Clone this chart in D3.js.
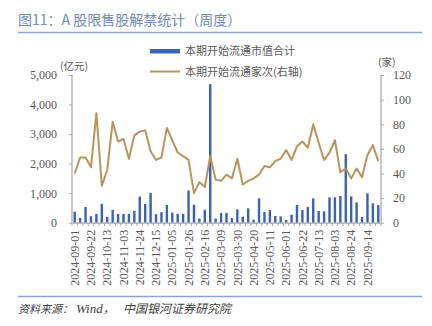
<!DOCTYPE html>
<html><head><meta charset="utf-8">
<script src="https://cdn.jsdelivr.net/npm/d3@7"></script>
<style>
html,body{margin:0;padding:0;background:#fff;}
svg{display:block;}
</style></head>
<body>
<svg id="c" width="432" height="326"></svg>
<script>
const weeks = ["2024-09-01","2024-09-08","2024-09-15","2024-09-22","2024-09-29","2024-10-06","2024-10-13","2024-10-20","2024-10-27","2024-11-03","2024-11-10","2024-11-17","2024-11-24","2024-12-01","2024-12-08","2024-12-15","2024-12-22","2024-12-29","2025-01-05","2025-01-12","2025-01-19","2025-01-26","2025-02-02","2025-02-09","2025-02-16","2025-02-23","2025-03-02","2025-03-09","2025-03-16","2025-03-23","2025-03-30","2025-04-06","2025-04-13","2025-04-20","2025-04-27","2025-05-04","2025-05-11","2025-05-18","2025-05-25","2025-06-01","2025-06-08","2025-06-15","2025-06-22","2025-06-29","2025-07-06","2025-07-13","2025-07-20","2025-07-27","2025-08-03","2025-08-10","2025-08-17","2025-08-24","2025-08-31","2025-09-07","2025-09-14","2025-09-21","2025-09-28"];
const marketValue = [370,165,530,220,300,640,200,437,300,300,300,402,885,632,1010,287,356,598,345,300,300,1090,609,140,437,4690,140,322,330,158,451,203,485,102,824,361,429,226,214,90,271,598,429,530,824,395,384,858,858,903,2320,892,688,192,993,655,598];
const companyCount = [40,53,53,45,89,30,43,82,66,68,52,71,74,75,58,51,53,77,67,57,54,51,24,33,29,54,35,34,39,36,52,31,34,36,39,46,45,50,52,59,51,62,66,61,80,65,51,57,67,41,44,36,44,37,55,63,50];
const xTickLabels = ["2024-09-01","2024-09-22","2024-10-13","2024-11-03","2024-11-24","2024-12-15","2025-01-05","2025-01-26","2025-02-16","2025-03-09","2025-03-30","2025-04-20","2025-05-11","2025-06-01","2025-06-22","2025-07-13","2025-08-03","2025-08-24","2025-09-14"];
const leftTicks = [0,1000,2000,3000,4000,5000];
const rightTicks = [0,20,40,60,80,100,120];
const seriesNames = ["本期开始流通市值合计","本期开始流通家次(右轴)"];

const svg = d3.select("#c");
const barColor = "#3a62b6", lineColor = "#b8935b", axisColor = "#a6a6a6", textColor = "#595959";
const serif = "'Liberation Serif','Times New Roman',serif";
const cjk = "'Noto Sans CJK SC','Noto Sans',sans-serif";

// title
svg.append("text").attr("x",18).attr("y",25).attr("font-family",cjk).attr("font-size",14)
  .attr("fill","#7089c0").text("图11：A 股限售股解禁统计（周度）");
svg.append("line").attr("x1",18).attr("x2",422).attr("y1",32.5).attr("y2",32.5)
  .attr("stroke","#8ea3d2").attr("stroke-width",1.6);

const x = d3.scaleBand().domain(weeks).range([72,381]).padding(0);
const yL = d3.scaleLinear().domain([0,5000]).range([222.7,75]);
const yR = d3.scaleLinear().domain([0,120]).range([222.7,75]);

// bars
const bw = 2.4;
svg.append("g").selectAll("rect").data(weeks).join("rect")
  .attr("x",(d)=>x(d)+x.bandwidth()/2-bw/2)
  .attr("y",(d,i)=>yL(marketValue[i]))
  .attr("width",bw)
  .attr("height",(d,i)=>yL(0)-yL(marketValue[i]))
  .attr("fill",barColor);

// line
const line = d3.line().x((d,i)=>x(weeks[i])+x.bandwidth()/2).y(d=>yR(d));
svg.append("path").datum(companyCount).attr("d",line).attr("fill","none")
  .attr("stroke",lineColor).attr("stroke-width",2).attr("stroke-linejoin","round");

// left axis
const gL = svg.append("g").attr("transform","translate(72,0)")
  .call(d3.axisLeft(yL).tickValues(leftTicks).tickSize(3).tickPadding(12).tickFormat(d3.format(",")));
// right axis
const gR = svg.append("g").attr("transform","translate(381,0)")
  .call(d3.axisRight(yR).tickValues(rightTicks).tickSize(3).tickPadding(9));
// bottom axis
const gB = svg.append("g").attr("transform","translate(0,222.7)")
  .call(d3.axisBottom(x).tickValues(xTickLabels).tickSize(0).tickPadding(0));
// minor ticks at band boundaries
svg.append("g").selectAll("line").data(d3.range(weeks.length+1)).join("line")
  .attr("x1",i=>72+i*x.step()).attr("x2",i=>72+i*x.step())
  .attr("y1",222.7).attr("y2",226).attr("stroke",axisColor).attr("stroke-width",1);

[gL,gR,gB].forEach(g=>{
  g.selectAll(".domain").attr("stroke",axisColor).attr("stroke-width",1.2);
  g.selectAll(".tick line").attr("stroke",axisColor).attr("stroke-width",1);
  g.selectAll("text").attr("font-family",serif).attr("font-size",12).attr("fill",textColor);
});
gL.select(".domain").attr("d","M0,75V222.7");
gR.select(".domain").attr("d","M0,75V222.7");
gB.selectAll(".tick text").attr("transform","rotate(-90)").attr("text-anchor","end")
  .attr("x",-7).attr("y",0).attr("dy","0.35em");

// axis units
svg.append("text").attr("x",60).attr("y",70).attr("font-family",cjk).attr("font-size",10.5)
  .attr("fill",textColor).text("(亿元)");
svg.append("text").attr("x",378).attr("y",66).attr("font-family",cjk).attr("font-size",10.5)
  .attr("fill",textColor).text("(家)");

// legend
svg.append("rect").attr("x",150).attr("y",49).attr("width",30).attr("height",4.5).attr("fill",barColor);
svg.append("text").attr("x",185).attr("y",55).attr("font-family",cjk).attr("font-size",11)
  .attr("fill",textColor).text(seriesNames[0]);
svg.append("line").attr("x1",150).attr("x2",180).attr("y1",71.5).attr("y2",71.5)
  .attr("stroke",lineColor).attr("stroke-width",2);
svg.append("text").attr("x",185).attr("y",75.5).attr("font-family",cjk).attr("font-size",11)
  .attr("fill",textColor).text(seriesNames[1]);

// footer
svg.append("line").attr("x1",18).attr("x2",422).attr("y1",296.5).attr("y2",296.5)
  .attr("stroke","#8ea3d2").attr("stroke-width",1.6);
const ft = svg.append("text").attr("y",313).attr("font-size",11)
  .attr("font-style","italic").attr("fill","#404040").attr("font-family",cjk);
ft.append("tspan").attr("x",18).text("资料来源：");
ft.append("tspan").attr("x",76).attr("font-family",serif).attr("font-size",13).text("Wind");
ft.append("tspan").attr("font-size",12).text("，");
ft.append("tspan").attr("x",123).attr("font-size",12).text("中国银河证券研究院");
</script>
</body></html>
